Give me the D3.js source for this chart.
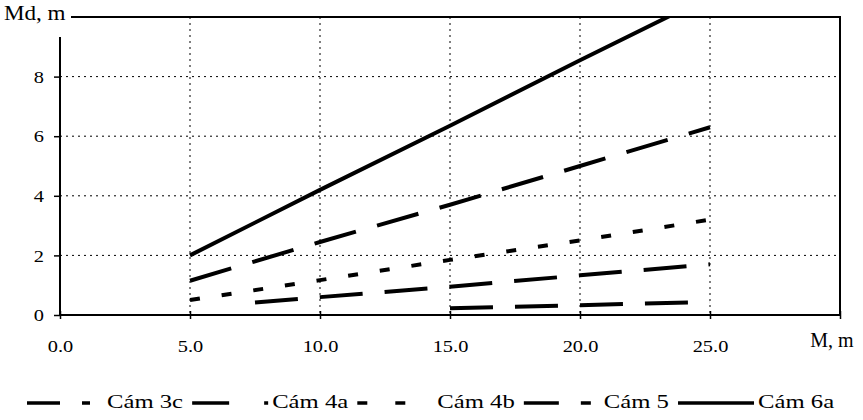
<!DOCTYPE html>
<html>
<head>
<meta charset="utf-8">
<title>Md - M</title>
<script src="https://cdn.jsdelivr.net/npm/d3@7"></script>
<style>
body { margin: 0; background: #fff; }
svg text { font-family: "Liberation Serif", "Times New Roman", serif; fill: #000; }
</style>
</head>
<body>
<svg id="chart" width="863" height="420"></svg>
<script>
// M, m values of each series
let m_full = [5, 10, 15, 20, 25];
let m_4a = [7.5, 10, 15, 20, 25];
let m_3c = [15, 20, 25];
// Md, m values
let cam_3c = [0.23, 0.33, 0.44];
let cam_4a = [0.42, 0.6, 0.95, 1.33, 1.7];
let cam_4b = [0.5, 1.17, 1.85, 2.5, 3.2];
let cam_5 = [1.15, 2.45, 3.7, 5.0, 6.3];
let cam_6a = [2.0, 4.2, 6.35, 8.55, 10.7];
let series_names = ['Cám 3c', 'Cám 4a', 'Cám 4b', 'Cám 5', 'Cám 6a'];
let x_ticks = [0, 5, 10, 15, 20, 25, 30];
let y_ticks = [0, 2, 4, 6, 8];
let x_title = 'M, m';
let y_title = 'Md, m';

let series = [
    {name: series_names[0], m: m_3c, md: cam_3c, dash: '43,22', legend: '33,22,8,60'},
    {name: series_names[1], m: m_4a, md: cam_4a, dash: '43,22', legend: '37,35,6,60'},
    {name: series_names[2], m: m_full, md: cam_4b, dash: '10,22', legend: '10,28'},
    {name: series_names[3], m: m_full, md: cam_5, dash: '43,22', legend: '35,22,10,60'},
    {name: series_names[4], m: m_full, md: cam_6a, dash: null, legend: null}
];

let svg = d3.select('#chart');
let pLeft = 60, pRight = 840, pTop = 17, pBottom = 315;
let serif = '"Liberation Serif", "Times New Roman", serif';

let x = d3.scaleLinear().domain([0, 30]).range([pLeft, pRight]);
let y = d3.scaleLinear().domain([0, 10]).range([pBottom, pTop]);

// stretch text sideways, the scan is wider than tall
function stretch(sel, sx){
    sel.each(function(){
        let t = d3.select(this);
        let tx = +t.attr('x') || 0, ty = +t.attr('y') || 0;
        t.attr('x', 0).attr('y', 0)
            .attr('transform', `translate(${tx},${ty}) scale(${sx},1)`);
    });
}

svg.append('clipPath').attr('id', 'plot-clip')
    .append('rect')
    .attr('x', pLeft).attr('y', pTop)
    .attr('width', pRight - pLeft).attr('height', pBottom - pTop);

// dotted grid
let grid = svg.append('g').attr('stroke', '#000').attr('stroke-width', 1)
    .attr('stroke-dasharray', '2,4');
grid.selectAll('.vg').data(x_ticks.filter(d => d > 0 && d < 30)).enter()
    .append('line')
    .attr('x1', d => x(d)).attr('x2', d => x(d))
    .attr('y1', pTop).attr('y2', pBottom);
grid.selectAll('.hg').data(y_ticks.filter(d => d > 0)).enter()
    .append('line')
    .attr('x1', pLeft).attr('x2', pRight)
    .attr('y1', d => y(d)).attr('y2', d => y(d));

// frame
svg.append('rect')
    .attr('x', pLeft).attr('y', pTop)
    .attr('width', pRight - pLeft).attr('height', pBottom - pTop)
    .attr('fill', 'none').attr('stroke', '#000').attr('stroke-width', 2);

// series
let line = d3.line().x(d => x(d[0])).y(d => y(d[1]));
svg.append('g').attr('clip-path', 'url(#plot-clip)')
    .selectAll('path').data(series).enter()
    .append('path')
    .attr('d', s => line(s.m.map((v, i) => [v, s.md[i]])))
    .attr('fill', 'none')
    .attr('stroke', '#000')
    .attr('stroke-width', 4)
    .attr('stroke-dasharray', s => s.dash);

// axes
let xAxis = svg.append('g')
    .attr('transform', `translate(0,${pBottom})`)
    .call(d3.axisBottom(x).tickValues(x_ticks).tickSize(4)
        .tickFormat(d => d === 30 ? '' : d3.format('.1f')(d)))
    .attr('font-family', serif);
xAxis.select('.domain').remove();
xAxis.selectAll('.tick line').attr('y1', -4).attr('y2', 4)
    .attr('stroke', '#000').attr('stroke-width', 1.5);
xAxis.selectAll('.tick text').attr('y', 37).attr('dy', 0)
    .style('font-size', '17px');
stretch(xAxis.selectAll('.tick text'), 1.2);

let yAxis = svg.append('g')
    .attr('transform', `translate(${pLeft},0)`)
    .call(d3.axisLeft(y).tickValues(y_ticks).tickSize(6).tickFormat(d3.format('d')))
    .attr('font-family', serif);
yAxis.select('.domain').remove();
yAxis.selectAll('.tick line').attr('stroke', '#000').attr('stroke-width', 1.5);
yAxis.selectAll('.tick text').attr('x', -16).attr('dy', '0.34em')
    .style('font-size', '17px');
stretch(yAxis.selectAll('.tick text'), 1.2);

// axis titles
svg.append('rect').attr('x', 0).attr('y', 0).attr('width', 71).attr('height', 37)
    .attr('fill', '#fff');
svg.append('text').attr('x', 4).attr('y', 20)
    .style('font-size', '21px').text(y_title)
    .call(stretch, 1.1);
svg.append('text').attr('x', 832).attr('y', 347)
    .attr('text-anchor', 'middle')
    .style('font-size', '20px').text(x_title)
    .call(stretch, 1.0);

// legend
let lx = 27, ly = 403;
series.forEach(s => {
    svg.append('line')
        .attr('x1', lx).attr('x2', lx + 76)
        .attr('y1', ly).attr('y2', ly)
        .attr('stroke', '#000').attr('stroke-width', 3.3)
        .attr('stroke-dasharray', s.legend);
    let t = svg.append('text').attr('x', lx + 80).attr('y', 408)
        .style('font-size', '19px').text(s.name);
    let w = t.node().getComputedTextLength() * 1.3;
    t.call(stretch, 1.3);
    lx = lx + 80 + w + 9;
});
</script>
</body>
</html>
